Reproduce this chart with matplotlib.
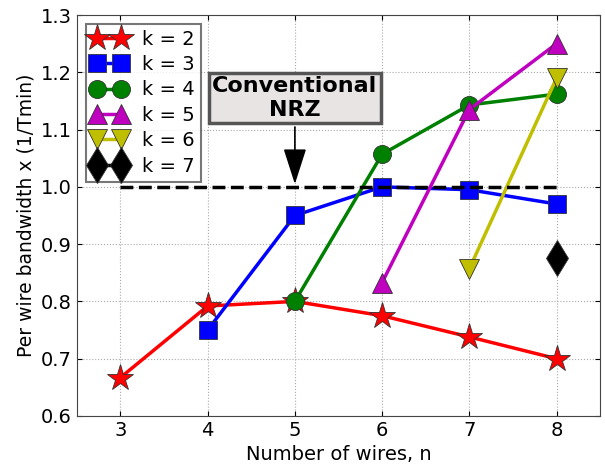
import matplotlib
matplotlib.use("Agg")
import matplotlib.pyplot as plt

n_k2 = [3, 4, 5, 6, 7, 8]
bw_k2 = [0.667, 0.792, 0.800, 0.775, 0.738, 0.700]
n_k3 = [4, 5, 6, 7, 8]
bw_k3 = [0.750, 0.950, 1.000, 0.995, 0.970]
n_k4 = [5, 6, 7, 8]
bw_k4 = [0.800, 1.057, 1.143, 1.162]
n_k5 = [6, 7, 8]
bw_k5 = [0.833, 1.135, 1.250]
n_k6 = [7, 8]
bw_k6 = [0.857, 1.190]
n_k7 = [8]
bw_k7 = [0.875]
nrz_n = [3, 8]
nrz_bw = [1.0, 1.0]

fig = plt.figure(figsize=(6.05, 4.7), dpi=100)
ax = fig.add_axes([0.127, 0.115, 0.865, 0.853])

mk = dict(lw=2.5, markeredgecolor="#333333", markeredgewidth=0.6)
ax.plot(n_k2, bw_k2, color="r", marker="*", markersize=20, label="k = 2", **mk)
ax.plot(n_k3, bw_k3, color="b", marker="s", markersize=13, label="k = 3", **mk)
ax.plot(n_k4, bw_k4, color="g", marker="o", markersize=13, label="k = 4", **mk)
ax.plot(n_k5, bw_k5, color="m", marker="^", markersize=14, label="k = 5", **mk)
ax.plot(n_k6, bw_k6, color="y", marker="v", markersize=14, label="k = 6", **mk)
ax.plot(n_k7, bw_k7, color="k", marker="d", markersize=18, label="k = 7", **mk)
ax.plot(nrz_n, nrz_bw, "k--", lw=2.5)

ax.annotate("Conventional\nNRZ", xy=(5, 1.0), xytext=(5, 1.155),
            ha="center", va="center", fontsize=16, fontweight="bold",
            bbox=dict(boxstyle="square,pad=0.15", fc="#e8e4e4", ec="#555555", lw=2.5),
            arrowprops=dict(arrowstyle="-|>,head_width=0.45,head_length=1.4", color="k", lw=1.2))

ax.set_xlim(2.5, 8.5)
ax.set_ylim(0.6, 1.3)
ax.set_xticks([3, 4, 5, 6, 7, 8])
ax.set_yticks([0.6, 0.7, 0.8, 0.9, 1.0, 1.1, 1.2, 1.3])
ax.tick_params(labelsize=14, direction="in", top=True, right=True)
for s in ax.spines.values():
    s.set_color("#444444")
ax.grid(True, ls=":", color="#aaaaaa")
ax.set_xlabel("Number of wires, n", fontsize=14)
ax.set_ylabel("Per wire bandwidth x (1/Tmin)", fontsize=13.5)

leg = ax.legend(loc="upper left", numpoints=2, fontsize=14, fancybox=False,
                handlelength=1.8, labelspacing=0.33, borderaxespad=0.45,
                borderpad=0.3, handletextpad=0.8)
leg.get_frame().set_edgecolor("#555555")
leg.get_frame().set_linewidth(1.5)

fig.savefig("out.png", dpi=100)
